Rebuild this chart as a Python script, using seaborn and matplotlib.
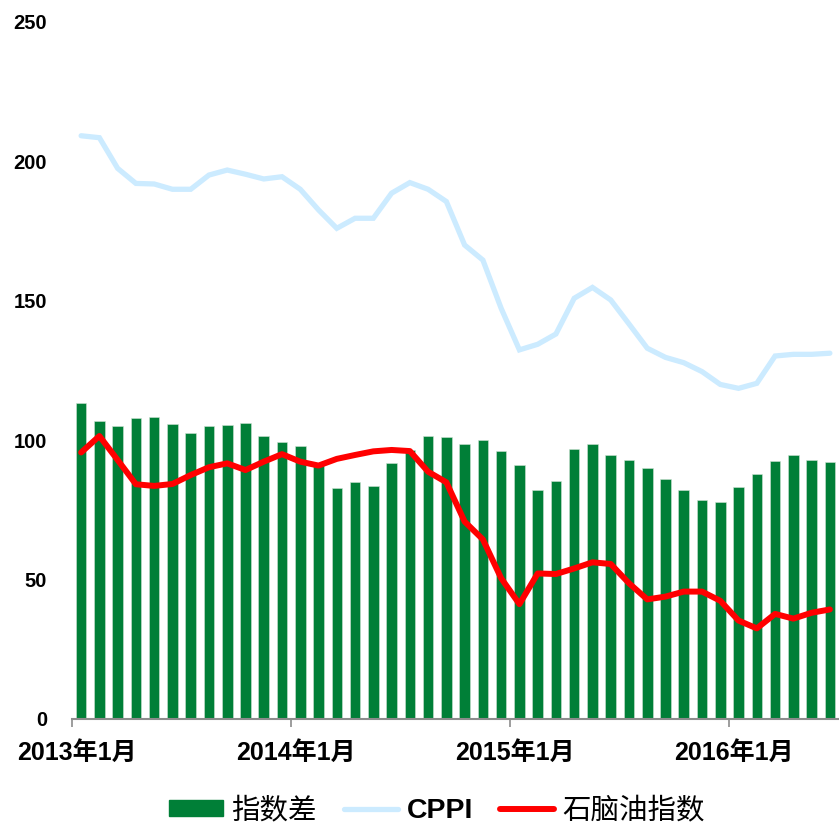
import numpy as np
import pandas as pd
import matplotlib
matplotlib.use("Agg")
import matplotlib.pyplot as plt
import matplotlib.transforms as mtransforms
from matplotlib.patches import Patch
from matplotlib.lines import Line2D
import seaborn as sns

# ---- data ----
months = pd.date_range("2013-01-01", periods=42, freq="MS").strftime("%Y-%m").tolist()
diff = [113.5, 106.9, 105.0, 107.8, 108.2, 105.8, 102.7, 105.1, 105.5, 106.2,
        101.5, 99.5, 97.8, 91.5, 83.0, 85.0, 83.6, 91.8, 96.5, 101.4,
        101.1, 98.6, 100.1, 96.1, 91.2, 82.1, 85.5, 97.0, 98.6, 94.6,
        92.8, 90.0, 86.0, 82.0, 78.5, 77.7, 83.1, 87.9, 92.5, 94.7, 92.8, 92.1]
cppi = [209.2, 208.5, 197.5, 192.1, 191.9, 190.0, 190.0, 195.1, 196.9, 195.4,
        193.7, 194.5, 190.0, 182.6, 176.0, 179.6, 179.6, 188.6, 192.4, 190.0,
        185.6, 170.0, 164.6, 147.3, 132.4, 134.4, 138.1, 150.9, 154.8, 150.3,
        141.7, 133.0, 129.7, 127.8, 124.6, 120.0, 118.6, 120.4, 130.2, 130.8, 130.8, 131.2]
naphtha = [95.6, 101.5, 92.9, 84.2, 83.6, 84.3, 87.5, 90.3, 91.7, 89.3,
           92.3, 95.0, 92.3, 90.9, 93.3, 94.7, 96.0, 96.5, 96.1, 88.7,
           84.9, 70.8, 64.4, 50.5, 41.2, 52.2, 52.0, 54.0, 56.2, 55.6,
           48.7, 42.9, 43.9, 45.7, 45.7, 42.4, 35.3, 32.5, 37.7, 36.0, 38.1, 39.3]
xtick_labels = ["2013年1月", "2014年1月", "2015年1月", "2016年1月"]
xtick_months = ["2013-01", "2014-01", "2015-01", "2016-01"]
yticks = [0, 50, 100, 150, 200, 250]
series_names = ["指数差", "CPPI", "石脑油指数"]

df = pd.DataFrame({"month": months, "pos": np.arange(len(months)),
                   "diff": diff, "cppi": cppi, "naphtha": naphtha})

sns.set_theme(style="white")
plt.rcParams["font.family"] = ["Liberation Sans", "Noto Sans CJK SC"]
plt.rcParams["text.color"] = "black"
plt.rcParams["xtick.color"] = "black"
plt.rcParams["ytick.color"] = "black"
plt.rcParams["xtick.labelcolor"] = "black"
plt.rcParams["ytick.labelcolor"] = "black"

GREEN = "#007F37"
BLUE = "#CCEBFF"
RED = "#FF0000"

fig = plt.figure(figsize=(8.39, 8.24), dpi=100)
ax = fig.add_axes([72/839, 105/824, 1 - 72/839, (719-22)/824])

sns.barplot(data=df, x="pos", y="diff", native_scale=True, color=GREEN,
            width=0.58, saturation=1, ax=ax, edgecolor="#cfe3d5", linewidth=0.4)
sns.lineplot(data=df, x="pos", y="cppi", color=BLUE, lw=3.8, ax=ax,
             solid_joinstyle="miter")
sns.lineplot(data=df, x="pos", y="naphtha", color=RED, lw=4.3, ax=ax,
             solid_joinstyle="round")

ax.set_xlim(-0.5, len(months) - 0.5)
ax.set_ylim(0, 250)
ax.set_xlabel("")
ax.set_ylabel("")

tick_pos = [months.index(m) - 0.5 for m in xtick_months]
ax.set_xticks(tick_pos)
ax.set_xticklabels(xtick_labels, fontsize=18, fontweight="bold", color="black")
ax.set_yticks(yticks)
ax.set_yticklabels([str(v) for v in yticks], fontsize=14.5, fontweight="bold",
                   color="black")

ax.tick_params(axis="x", direction="out", length=6, width=1.2, color="#8c8c8c",
               pad=10, bottom=True)
ax.tick_params(axis="y", length=0, pad=18)
offset = mtransforms.ScaledTranslation(5/100, 0, fig.dpi_scale_trans)
for lab in ax.get_xticklabels():
    lab.set_transform(lab.get_transform() + offset)

for s in ["top", "right", "left"]:
    ax.spines[s].set_visible(False)
ax.spines["bottom"].set_color("#8c8c8c")
ax.spines["bottom"].set_linewidth(1.5)
ax.grid(False)

handles = [Patch(facecolor=GREEN, edgecolor=GREEN),
           Line2D([0], [0], color=BLUE, lw=3.8),
           Line2D([0], [0], color=RED, lw=4.3)]
leg = fig.legend(handles, series_names, loc="center", ncol=3,
                 bbox_to_anchor=(437/839, 13/824), frameon=False,
                 fontsize=20.5, handlelength=1.9, handleheight=0.5,
                 handletextpad=0.3, columnspacing=0.95)
for i, t in enumerate(leg.get_texts()):
    t.set_fontweight("bold" if i == 1 else "normal")
    t.set_color("black")

fig.savefig("out.png", dpi=100)
